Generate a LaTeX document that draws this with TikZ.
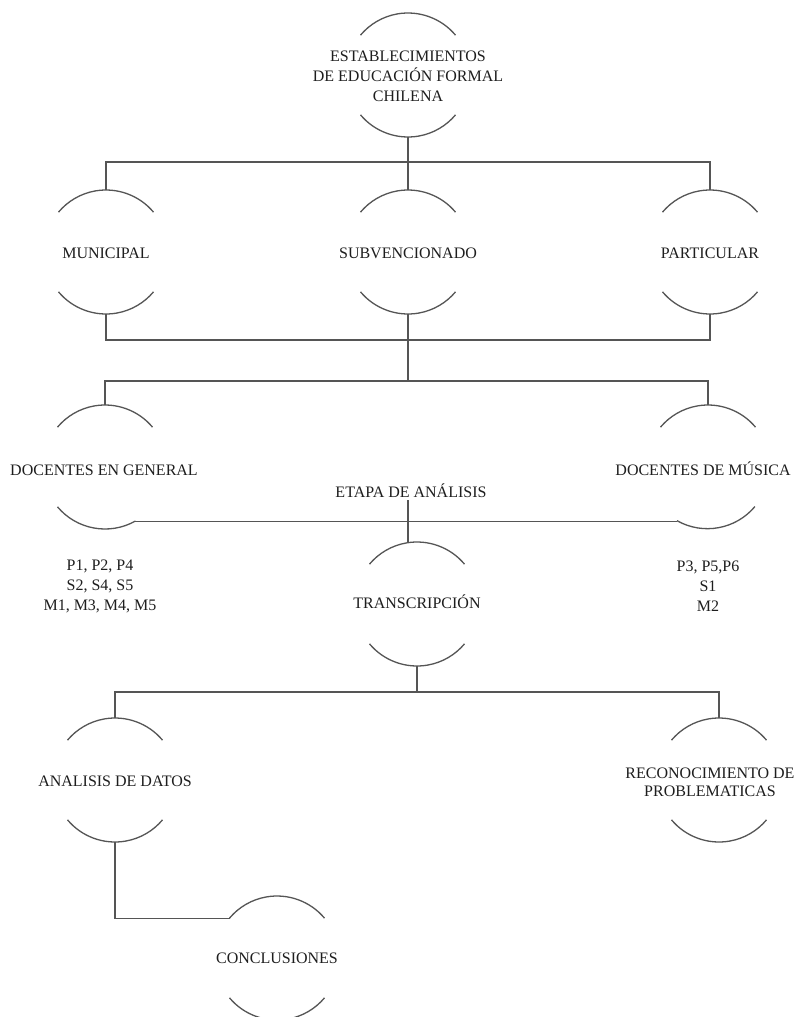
\documentclass[tikz,border=0pt]{standalone}
\usepackage{fontspec}
\setmainfont{Liberation Serif}
\begin{document}
\begin{tikzpicture}[x=1pt,y=1pt,
  ln/.style={draw={rgb,255:red,85;green,85;blue,85},line width=1.3pt},
  circ/.style={circle,minimum size=124pt,inner sep=0pt,outer sep=0pt},
  txt/.style={align=center,inner sep=0pt,text={rgb,255:red,30;green,30;blue,30},font=\fontsize{16}{20}\selectfont}
]
\path[use as bounding box] (0,0) rectangle (800,-1017);
\clip (0,0) rectangle (800,-1017);
\fill[white] (0,0) rectangle (800,-1017);
\newcommand\twoarcs[1]{%
  \draw[ln] (#1.40) arc[start angle=40,end angle=140,radius=62];
  \draw[ln] (#1.220) arc[start angle=220,end angle=320,radius=62];}
% circle frames
\node[circ] (top) at (408,-75) {};
\node[circ] (mun) at (106,-252) {};
\node[circ] (sub) at (408,-252) {};
\node[circ] (par) at (710,-252) {};
\node[circ] (dg) at (105,-467) {};
\node[circ] (dm) at (708,-467) {};
\node[circ] (trans) at (417,-604) {};
\node[circ] (ad) at (115,-780) {};
\node[circ] (rec) at (719,-780) {};
\node[circ] (concl) at (277,-958) {};
% texts
\node[txt] (top-t) at (408,-76) {ESTABLECIMIENTOS\\DE EDUCACIÓN FORMAL\\CHILENA};
\node[txt] (mun-t) at (106,-253) {MUNICIPAL};
\node[txt] (sub-t) at (408,-253) {SUBVENCIONADO};
\node[txt] (par-t) at (710,-253) {PARTICULAR};
\node[txt] (dg-t) at (104,-470) {DOCENTES EN GENERAL};
\node[txt] (dm-t) at (703,-469) {DOCENTES DE MÚSICA};
\node[txt] (etapa) at (411,-491) {ETAPA DE ANÁLISIS};
\node[txt] (trans-t) at (417,-602) {TRANSCRIPCIÓN};
\node[txt] (ad-t) at (115,-781) {ANALISIS DE DATOS};
\node[txt,font=\fontsize{16}{18}\selectfont] (rec-t) at (710,-782) {RECONOCIMIENTO DE\\PROBLEMATICAS};
\node[txt] (concl-t) at (277,-958) {CONCLUSIONES};
\node[txt] (lg) at (100,-586) {P1, P2, P4\\S2, S4, S5\\M1, M3, M4, M5};
\node[txt] (lm) at (708,-586) {P3, P5,P6\\S1\\M2};
% arcs
\twoarcs{top}\twoarcs{mun}\twoarcs{sub}\twoarcs{par}
\twoarcs{trans}\twoarcs{ad}\twoarcs{rec}\twoarcs{concl}
\draw[ln] (dg.40) arc[start angle=40,end angle=140,radius=62];
\draw[ln] (dg.220) arc[start angle=220,end angle=299.4,radius=62];
\draw[ln] (dm.40) arc[start angle=40,end angle=140,radius=62];
\draw[ln] (dm.240.6) arc[start angle=240.6,end angle=320,radius=62];
% junctions
\coordinate (j1) at (408,-162);
\coordinate (j2) at (408,-340);
\coordinate (j3) at (408,-381);
\coordinate (j5) at (417,-692);
% connectors
\draw[ln] (top.south) -- (sub.north);
\draw[ln] (mun.north) |- (j1) -| (par.north);
\draw[ln] (mun.south) |- (j2) -| (par.south);
\draw[ln] (sub.south) -- (j2) -- (j3);
\draw[ln] (dg.north) |- (j3) -| (dm.north);
\draw[ln] (dg.299.4) -- (dg.299.4 -| dm.240.6);
\draw[ln] ([yshift=-2pt]etapa.south -| 408,0) -- (408,-542.6);
\draw[ln] (trans.south) -- (j5);
\draw[ln] (ad.north) |- (j5) -| (rec.north);
\draw[ln] (ad.south) |- (concl.140);
\end{tikzpicture}
\end{document}
